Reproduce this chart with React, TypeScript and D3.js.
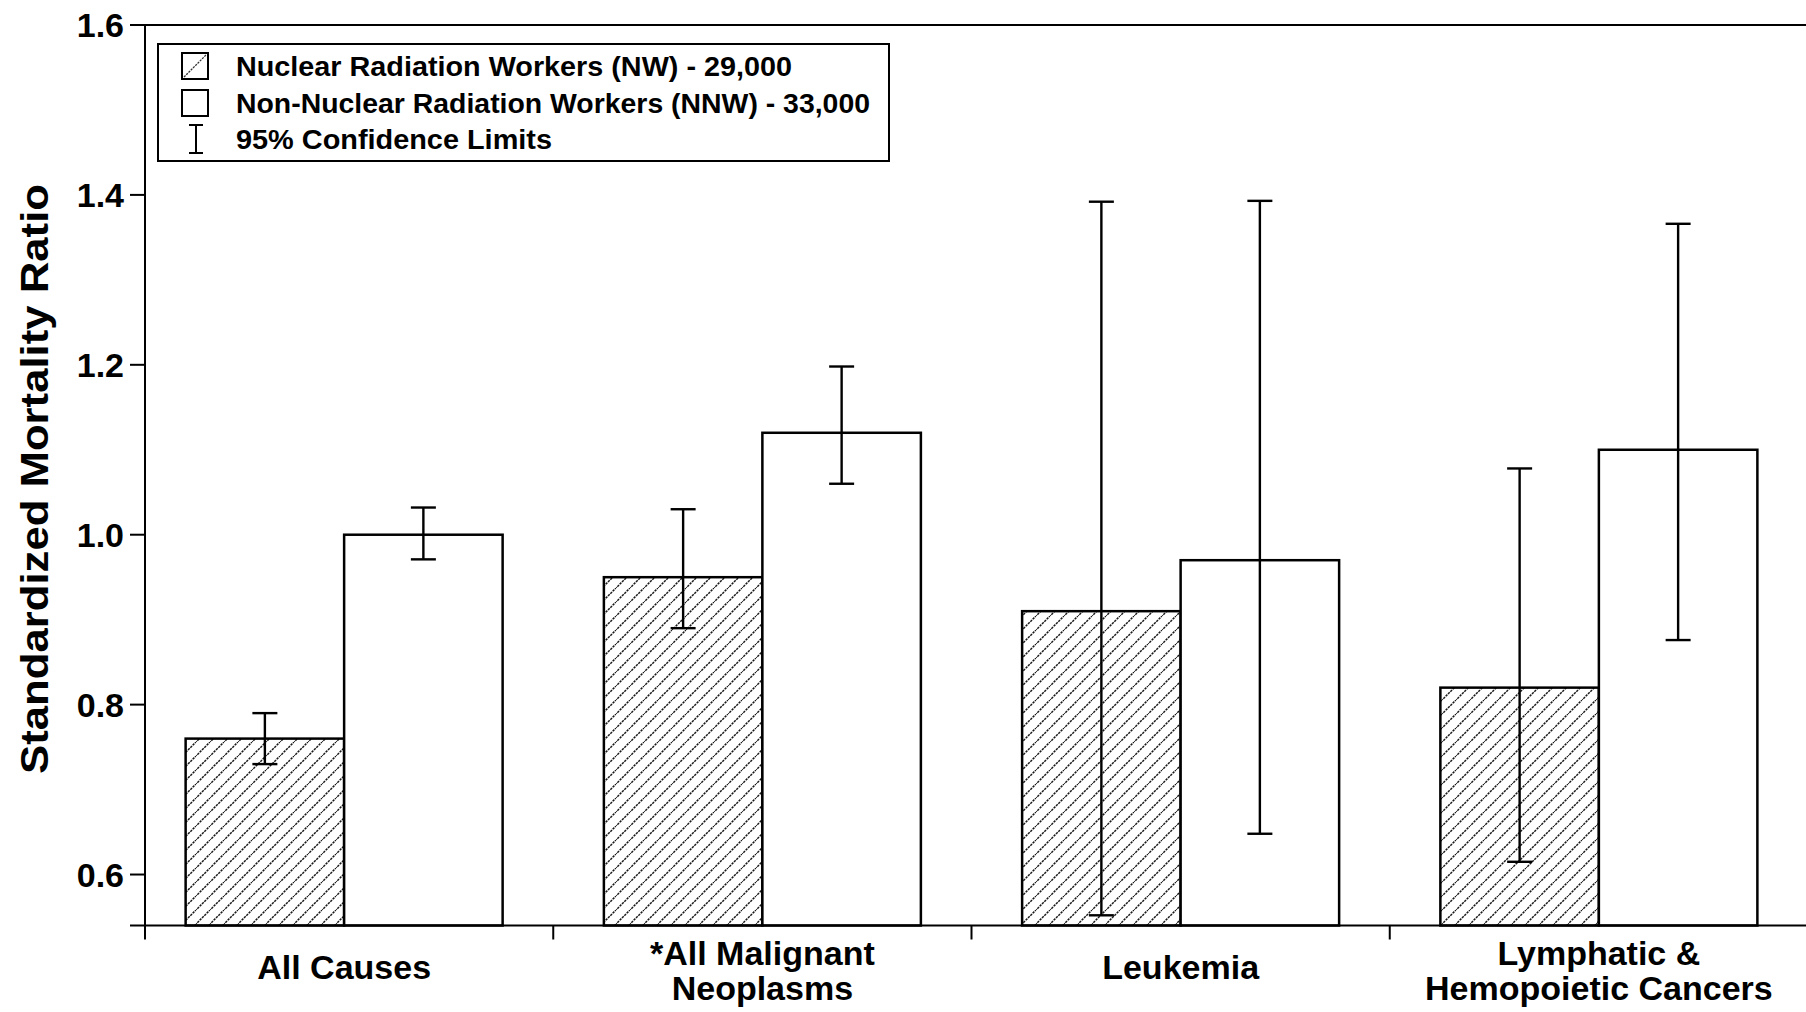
import React from "react";
import * as d3 from "d3";

const categories = ["All Causes", "*All Malignant Neoplasms", "Leukemia", "Lymphatic & Hemopoietic Cancers"];
const categoryLines = [["All Causes"], ["*All Malignant", "Neoplasms"], ["Leukemia"], ["Lymphatic &", "Hemopoietic Cancers"]];
const seriesKeys = ["NW", "NNW"];
const nwSMR = [0.76, 0.95, 0.91, 0.82];
const nwLow = [0.73, 0.89, 0.552, 0.615];
const nwHigh = [0.79, 1.03, 1.392, 1.078];
const nnwSMR = [1.0, 1.12, 0.97, 1.1];
const nnwLow = [0.971, 1.06, 0.648, 0.876];
const nnwHigh = [1.032, 1.198, 1.393, 1.366];
const yTicks = [0.6, 0.8, 1.0, 1.2, 1.4, 1.6];
const legendLabels = [
  "Nuclear Radiation Workers (NW) - 29,000",
  "Non-Nuclear Radiation Workers (NNW) - 33,000",
  "95% Confidence Limits",
];
const yTitle = "Standardized Mortality Ratio";

const W = 1806;
const H = 1012;
const FONT = "'Liberation Sans', Arial, Helvetica, sans-serif";

export default function App() {
  const axisX = 145;
  const y = d3.scaleLinear().domain([0.54, 1.6]).range([925.5, 25]);
  const x0 = d3.scaleBand<string>().domain(categories).range([135, 1808]).padding(0);
  const pairW = 317;
  const x1 = d3.scaleBand<string>().domain(seriesKeys).range([0, pairW]).padding(0);
  const baseY = y(0.54);

  const series = [
    { key: "NW", vals: nwSMR, lo: nwLow, hi: nwHigh },
    { key: "NNW", vals: nnwSMR, lo: nnwLow, hi: nnwHigh },
  ];

  const capW = 25;

  return (
    <svg
      width={W}
      height={H}
      style={{ position: "absolute", left: 0, top: 0, background: "#fff" }}
      fontFamily={FONT}
    >
      <defs>
        <pattern id="hatch" patternUnits="userSpaceOnUse" width={14} height={14}>
          <path
            d="M-1,15 L15,-1 M-2,2 L2,-2 M12,16 L16,12"
            stroke="#1a1a1a"
            strokeWidth={1.5}
            strokeDasharray="2.4,0.9"
          />
        </pattern>
      </defs>
      <rect x={0} y={0} width={W} height={H} fill="#fff" />

      {/* bars */}
      {categories.map((c, i) => {
        const gx = x0(c)! + x0.bandwidth() / 2 - pairW / 2;
        return (
          <g key={c}>
            {series.map((s) => {
              const bx = gx + x1(s.key)!;
              const bw = x1.bandwidth();
              return (
                <rect
                  key={s.key}
                  x={bx}
                  y={y(s.vals[i])}
                  width={bw}
                  height={baseY - y(s.vals[i])}
                  fill={s.key === "NW" ? "url(#hatch)" : "#fff"}
                  stroke="#000"
                  strokeWidth={2.5}
                />
              );
            })}
          </g>
        );
      })}

      {/* error bars */}
      {categories.map((c, i) => {
        const gx = x0(c)! + x0.bandwidth() / 2 - pairW / 2;
        return (
          <g key={"e" + c} stroke="#000" strokeWidth={2.4}>
            {series.map((s) => {
              const cx = gx + x1(s.key)! + x1.bandwidth() / 2;
              const yl = y(s.lo[i]);
              const yh = y(s.hi[i]);
              return (
                <g key={s.key}>
                  <line x1={cx} x2={cx} y1={yh} y2={yl} />
                  <line x1={cx - capW / 2} x2={cx + capW / 2} y1={yh} y2={yh} />
                  <line x1={cx - capW / 2} x2={cx + capW / 2} y1={yl} y2={yl} />
                </g>
              );
            })}
          </g>
        );
      })}

      {/* axes */}
      <line x1={axisX} x2={axisX} y1={y(1.6)} y2={baseY + 14} stroke="#000" strokeWidth={2} />
      <line x1={axisX - 15} x2={W} y1={baseY} y2={baseY} stroke="#000" strokeWidth={2} />
      <line x1={axisX} x2={W} y1={y(1.6)} y2={y(1.6)} stroke="#000" strokeWidth={2} />
      {categories.slice(1).map((c) => (
        <line key={"t" + c} x1={x0(c)!} x2={x0(c)!} y1={baseY} y2={baseY + 14} stroke="#000" strokeWidth={2} />
      ))}
      {yTicks.map((t) => (
        <g key={t}>
          <line x1={axisX - 15} x2={axisX} y1={y(t)} y2={y(t)} stroke="#000" strokeWidth={2} />
          <text
            x={axisX - 21}
            y={y(t)}
            dy="0.36em"
            textAnchor="end"
            fontSize={34}
            fontWeight="bold"
          >
            {t.toFixed(1)}
          </text>
        </g>
      ))}

      {/* y title */}
      <text
        transform={`translate(48,479) rotate(-90)`}
        textAnchor="middle"
        fontSize={38}
        fontWeight="bold"
        textLength={590}
        lengthAdjust="spacingAndGlyphs"
      >
        {yTitle}
      </text>

      {/* category labels */}
      {categories.map((c, i) => {
        const cx = x0(c)! + x0.bandwidth() / 2;
        const lines = categoryLines[i];
        const startY = lines.length === 1 ? 979 : 965;
        return (
          <text key={"l" + c} x={cx} textAnchor="middle" fontSize={34} fontWeight="bold">
            {lines.map((ln, k) => (
              <tspan key={k} x={cx} y={startY + k * 35}>
                {ln}
              </tspan>
            ))}
          </text>
        );
      })}

      {/* legend */}
      <g>
        <rect x={158} y={44} width={731} height={117} fill="#fff" stroke="#000" strokeWidth={2} />
        <rect x={182} y={53} width={26} height={26} fill="#fff" stroke="#000" strokeWidth={2} />
        <line x1={184} y1={77} x2={206} y2={55} stroke="#333" strokeWidth={1.3} strokeDasharray="2.2,1" />
        <rect x={182} y={90} width={26} height={26} fill="#fff" stroke="#000" strokeWidth={2} />
        <g stroke="#000" strokeWidth={2}>
          <line x1={196} x2={196} y1={125} y2={153} />
          <line x1={189} x2={203} y1={125} y2={125} />
          <line x1={189} x2={203} y1={153} y2={153} />
        </g>
        {legendLabels.map((l, i) => {
          const widths = [556, 634, 316];
          return (
            <text
              key={l}
              x={236}
              y={76 + i * 36.5}
              fontSize={27}
              fontWeight="bold"
              textLength={widths[i]}
              lengthAdjust="spacingAndGlyphs"
            >
              {l}
            </text>
          );
        })}
      </g>
    </svg>
  );
}
